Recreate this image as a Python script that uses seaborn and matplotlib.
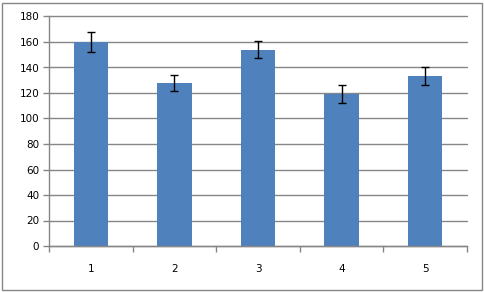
import matplotlib
matplotlib.use("Agg")
import matplotlib.pyplot as plt
import seaborn as sns
import numpy as np
import pandas as pd
from matplotlib.patches import Rectangle

categories = ["1", "2", "3", "4", "5"]
values = [160, 128, 154, 119, 133]
errors = [7.5, 6.5, 6.7, 7, 7]
yticks = [0, 20, 40, 60, 80, 100, 120, 140, 160, 180]

sns.set_theme(style="white")
plt.rcParams['font.family'] = ['DejaVu Sans']

df = pd.DataFrame({"cat": categories, "val": values})

fig = plt.figure(figsize=(4.85, 2.92), dpi=100)
ax = fig.add_axes([49/485, 1 - 246/292, (467-49)/485, (246-16.5)/292])

sns.barplot(data=df, x="cat", y="val", color="#4F81BD", saturation=1,
            width=0.41, errorbar=None, ax=ax, zorder=2, linewidth=0, edgecolor="none")
ax.errorbar(np.arange(len(categories)), values, yerr=errors, fmt="none",
            ecolor="black", elinewidth=1, capsize=3, capthick=1, zorder=3)

ax.set_ylim(0, 180)
ax.set_xlim(-0.5, len(categories) - 0.5)
ax.set_yticks(yticks)
ax.set_yticklabels([str(t) for t in yticks])
ax.yaxis.grid(True, color="#868686", linewidth=1)
ax.set_axisbelow(True)
ax.set_xlabel("")
ax.set_ylabel("")
for gl in ax.get_ygridlines():
    gl.set_clip_on(False)

for s in ["top", "right"]:
    ax.spines[s].set_visible(False)
for s in ["left", "bottom"]:
    ax.spines[s].set_color("#868686")
    ax.spines[s].set_linewidth(1)

ax.tick_params(axis="y", which="major", length=4, width=1, color="#868686",
               direction="out", labelsize=7.5, pad=3, left=True, labelcolor="black")
ax.tick_params(axis="x", which="major", length=0, labelsize=7.5, pad=13, labelcolor="black")
ax.set_xticks(np.arange(-0.5, len(categories)), minor=True)
ax.tick_params(axis="x", which="minor", length=4, width=1, color="#868686",
               direction="out", bottom=True)

fig.patches.append(Rectangle((2/485, 2/292), 480/485, 287/292, transform=fig.transFigure,
                             fill=False, edgecolor="#868686", linewidth=1))

fig.savefig("out.png", dpi=100)
